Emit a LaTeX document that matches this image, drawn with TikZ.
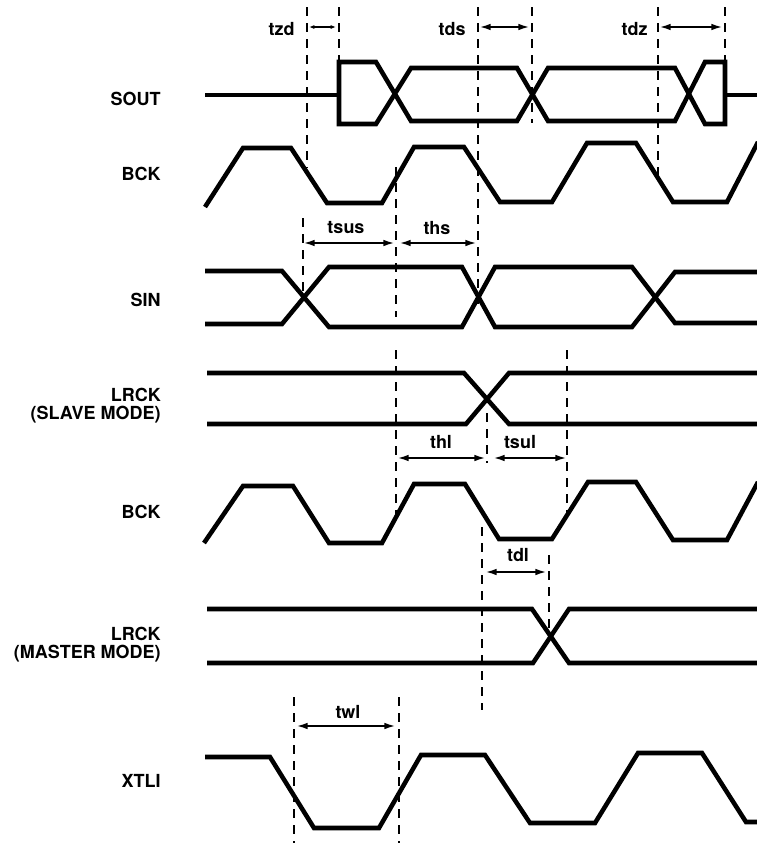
\documentclass[tikz,border=0pt]{standalone}
\usepackage{fontspec}
\setmainfont{TeX Gyre Heros}
\usetikzlibrary{arrows.meta}

\begin{document}
\begin{tikzpicture}[x=0.75pt, y=-0.75pt,
        sig/.style={line width=3.4pt},
        guide/.style={line width=1.4pt, dash pattern=on 7pt off 5pt},
        dim/.style={line width=1.1pt, {Latex[length=8pt,width=5pt]}-{Latex[length=8pt,width=5pt]}},
        lbl/.style={font=\fontsize{13.5}{13.5}\selectfont\bfseries, inner sep=0pt}]
        \useasboundingbox (0,0) rectangle (757,843);

        % Reperes verticaux
        \def\xa{307}
        \def\xb{339}
        \def\xc{478}
        \def\xd{532}
        \def\xe{658}
        \def\xf{725}

        % Noms des signaux
        \node[lbl, anchor=east] (sout) at (161,99) {SOUT};
        \node[lbl, anchor=east] (bcka) at (161,174) {BCK};
        \node[lbl, anchor=east] (sin) at (161,300) {SIN};
        \node[lbl, anchor=east, align=right] (lrcks) at (161,406) {LRCK\\(SLAVE MODE)};
        \node[lbl, anchor=east] (bckb) at (161,512) {BCK};
        \node[lbl, anchor=east, align=right] (lrckm) at (161,645) {LRCK\\(MASTER MODE)};
        \node[lbl, anchor=east] (xtli) at (161,781) {XTLI};

        % SOUT
        \draw[sig] (205,95) -- (\xb,95);
        \draw[sig] (376,62) -- (\xb,62) -- (\xb,124) -- (376,124) -- (411,68) -- (517,68) -- (548,121)
                -- (675,121) -- (705,62) -- (\xf,62) -- (\xf,124) -- (705,124) -- (675,68) -- (548,68)
                -- (517,121) -- (411,121) -- cycle;
        \draw[sig] (\xf,95) -- (757,95);

        % BCK
        \draw[sig] (205,207) -- (243,148) -- (291,148) -- (327,203) -- (382,203) -- (414,147) -- (464,147)
                -- (500,202) -- (552,202) -- (587,143) -- (636,143) -- (673,202) -- (727,202) -- (758,142);

        % SIN
        \draw[sig] (205,271) -- (282,271) -- (329,327) -- (462,327) -- (495,267) -- (632,267) -- (675,323) -- (757,323);
        \draw[sig] (205,324) -- (282,324) -- (329,267) -- (462,267) -- (495,327) -- (632,327) -- (675,272) -- (757,272);

        % LRCK (esclave)
        \draw[sig] (207,373) -- (464,373) -- (509,424) -- (757,424);
        \draw[sig] (207,424) -- (466,424) -- (509,373) -- (757,373);

        % BCK
        \draw[sig] (204,543) -- (243,486) -- (293,486) -- (329,543) -- (382,543) -- (414,484) -- (465,484)
                -- (499,539) -- (552,539) -- (588,482) -- (636,482) -- (673,540) -- (727,540) -- (758,482);

        % LRCK (maitre)
        \draw[sig] (207,609) -- (532,609) -- (569,663) -- (757,663);
        \draw[sig] (207,663) -- (533,663) -- (569,609) -- (757,609);

        % XTLI
        \draw[sig] (205,757) -- (270,757) -- (314,828) -- (379,828) -- (421,755) -- (485,755) -- (530,823)
                -- (595,823) -- (638,753) -- (702,753) -- (746,822) -- (757,822);

        % Pointilles
        \draw[guide] (\xa,7) -- (\xa,168);
        \draw[guide] (\xb,7) -- (\xb,62);
        \draw[guide] (\xc,7) -- (\xc,308);
        \draw[guide] (\xd,7) -- (\xd,123);
        \draw[guide] (\xe,7) -- (\xe,175);
        \draw[guide] (\xf,7) -- (\xf,62);
        \draw[guide] (303,218) -- (303,292);
        \draw[guide] (396,167) -- (396,317);
        \draw[guide] (396,350) -- (396,522);
        \draw[guide] (487,413) -- (487,463);
        \draw[guide] (567,350) -- (567,512);
        \draw[guide] (482,527) -- (482,710);
        \draw[guide] (549,555) -- (549,636);
        \draw[guide] (294,697) -- (294,843);
        \draw[guide] (399,697) -- (399,843);

        % Temps
        \draw[line width=1pt, {Latex[length=4pt,width=3pt]}-{Latex[length=4pt,width=3pt]}] (\xa+2,27) -- (\xb-3,27);
        \node[lbl, anchor=east] (tzd) at (295,29) {tzd};
        \draw[dim] (\xc+2,27) -- (\xd-3,27);
        \node[lbl, anchor=east] (tds) at (466,29) {tds};
        \draw[dim] (\xe+2,27) -- (\xf-3,27);
        \node[lbl, anchor=east] (tdz) at (648,29) {tdz};

        \draw[dim] (304,243) -- (394,243);
        \node[lbl] (tsus) at (346,228) {tsus};
        \draw[dim] (400,243) -- (476,243);
        \node[lbl] (ths) at (437,228) {ths};

        \draw[dim] (398,458) -- (485,458);
        \node[lbl] (thl) at (441,442) {thl};
        \draw[dim] (494,458) -- (566,458);
        \node[lbl] (tsul) at (520,442) {tsul};

        \draw[dim] (486,572) -- (546,572);
        \node[lbl] (tdl) at (518,555) {tdl};

        \draw[dim] (297,726) -- (395,726);
        \node[lbl] (twl) at (348,712) {twl};
\end{tikzpicture}
\end{document}
